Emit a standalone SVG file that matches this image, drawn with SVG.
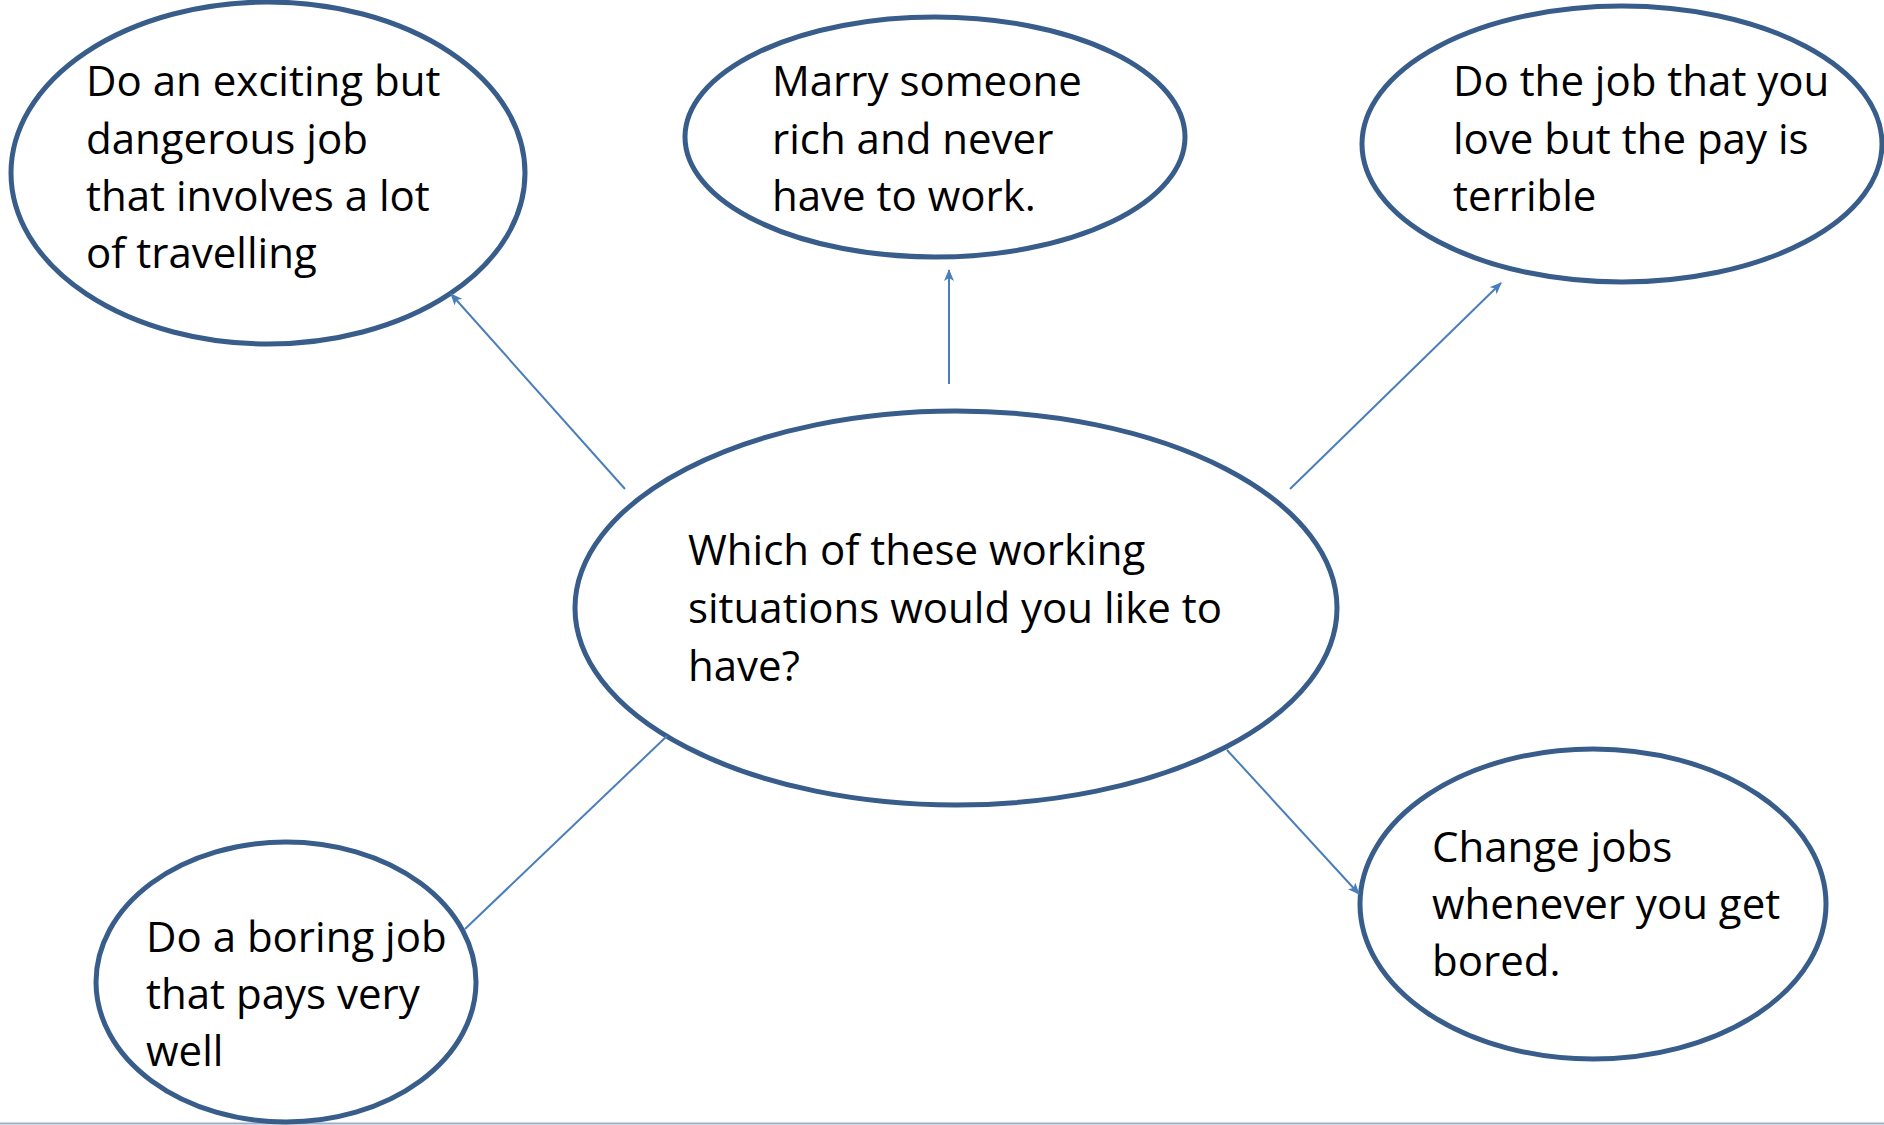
<svg xmlns="http://www.w3.org/2000/svg" width="1884" height="1125" viewBox="0 0 1884 1125">
<style>
.node ellipse{fill:#fff;stroke:#385d8a;stroke-width:5}
.node text{font-family:"Open Sans","Noto Sans",sans-serif;font-size:42px;fill:#000}
.conn line{stroke:#4a7ebb;stroke-width:2}
</style>
<defs>
<marker id="ah" viewBox="0 0 12 10" refX="11" refY="5" markerWidth="12" markerHeight="10" markerUnits="userSpaceOnUse" orient="auto">
<path d="M0,0 L12,5 L0,10 L3,5 z" fill="#4a7ebb"/>
</marker>
</defs>
<rect width="1884" height="1125" fill="#fff"/>
<line x1="0" y1="1123.5" x2="1884" y2="1123.5" stroke="#9ab0c8" stroke-width="2"/>
<g id="n-center" class="node">
<ellipse cx="956" cy="608" rx="381" ry="197"/>
<text><tspan x="688" y="565">Which of these working</tspan><tspan x="688" y="623">situations would you like to</tspan><tspan x="688" y="681">have?</tspan></text>
</g>
<g id="n-exciting" class="node">
<ellipse cx="268" cy="173" rx="257" ry="171"/>
<text><tspan x="86" y="96">Do an exciting but</tspan><tspan x="86" y="154">dangerous job</tspan><tspan x="86" y="211">that involves a lot</tspan><tspan x="86" y="268">of travelling</tspan></text>
</g>
<g id="n-marry" class="node">
<ellipse cx="935" cy="137" rx="250" ry="120"/>
<text><tspan x="772" y="96">Marry someone</tspan><tspan x="772" y="154">rich and never</tspan><tspan x="772" y="211">have to work.</tspan></text>
</g>
<g id="n-love" class="node">
<ellipse cx="1622" cy="144" rx="260" ry="138"/>
<text><tspan x="1453" y="96">Do the job that you</tspan><tspan x="1453" y="154">love but the pay is</tspan><tspan x="1453" y="211">terrible</tspan></text>
</g>
<g id="n-boring" class="node">
<ellipse cx="286" cy="982" rx="190" ry="140"/>
<text><tspan x="146" y="952">Do a boring job</tspan><tspan x="146" y="1009">that pays very</tspan><tspan x="146" y="1066">well</tspan></text>
</g>
<g id="n-change" class="node">
<ellipse cx="1593" cy="904" rx="233" ry="155"/>
<text><tspan x="1432" y="862">Change jobs</tspan><tspan x="1432" y="919">whenever you get</tspan><tspan x="1432" y="976">bored.</tspan></text>
</g>
<g id="connectors" class="conn">
<line x1="625" y1="489" x2="451" y2="294" marker-end="url(#ah)"/>
<line x1="949" y1="384" x2="949" y2="270" marker-end="url(#ah)"/>
<line x1="1290" y1="489" x2="1501" y2="283" marker-end="url(#ah)"/>
<line x1="1227" y1="750" x2="1359" y2="894" marker-end="url(#ah)"/>
<line x1="667" y1="736" x2="465" y2="929"/>
</g>
</svg>
